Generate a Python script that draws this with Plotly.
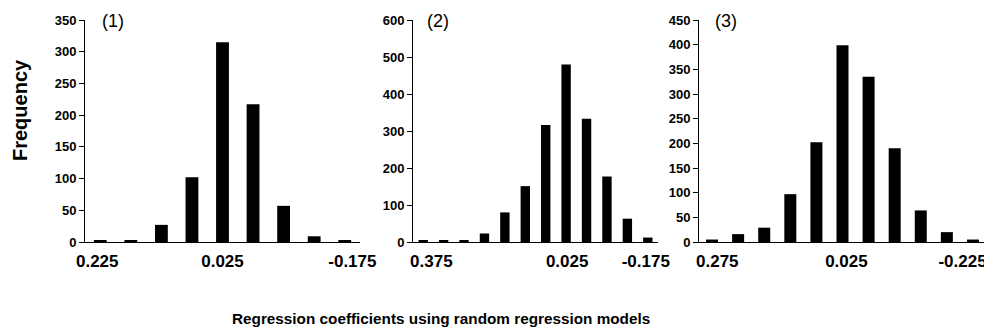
import plotly.graph_objects as go

# the page body has an 8px default margin, so the figure is 8px smaller than the window
OFF = 8
W, H = 992 - OFF, 332 - OFF

cats1 = ["0.225", "0.175", "0.125", "0.075", "0.025", "-0.025", "-0.075", "-0.125", "-0.175"]
freq1 = [3, 3, 27, 102, 315, 217, 57, 9, 2]
ticks1 = ["0.225", "0.025", "-0.175"]

cats2 = ["0.375", "0.325", "0.275", "0.225", "0.175", "0.125", "0.075", "0.025",
         "-0.025", "-0.075", "-0.125", "-0.175"]
freq2 = [3, 5, 3, 23, 80, 151, 316, 480, 333, 177, 63, 12]
ticks2 = ["0.375", "0.025", "-0.175"]

cats3 = ["0.275", "0.225", "0.175", "0.125", "0.075", "0.025", "-0.025", "-0.075",
         "-0.125", "-0.175", "-0.225"]
freq3 = [5, 16, 29, 97, 202, 399, 335, 190, 64, 20, 5]
ticks3 = ["0.275", "0.025", "-0.225"]

panel_labels = ["(1)", "(2)", "(3)"]
y_max = [350, 600, 450]
y_dtick = [50, 100, 50]

FONT = "Liberation Sans, Arial, sans-serif"


def px(x):
    return (x - OFF) / W


def py(y):
    return (H - (y - OFF)) / H


# label positions along each category axis (category index units), as placed in the source
panels = [
    dict(cats=cats1, freq=freq1, ticks=ticks1, tickpos=[-0.1, 4.0, 8.25],
         x0=85, x1=360, width=0.42, lab_x=113),
    dict(cats=cats2, freq=freq2, ticks=ticks2, tickpos=[0.4, 7.05, 10.9],
         x0=413, x1=658, width=0.46, lab_x=438),
    dict(cats=cats3, freq=freq3, ticks=ticks3, tickpos=[0.2, 5.15, 9.6],
         x0=699, x1=986, width=0.46, lab_x=726),
]

y_top_px, y_bot_px = 20, 242
ydom = [py(y_bot_px), py(y_top_px)]

fig = go.Figure()
layout = dict(
    width=W, height=H,
    margin=dict(l=0, r=0, t=0, b=0),
    paper_bgcolor="white", plot_bgcolor="white",
    showlegend=False,
    font=dict(family=FONT, color="black"),
)
annotations = []
for i, p in enumerate(panels):
    n = i + 1
    xa = "x" if n == 1 else f"x{n}"
    ya = "y" if n == 1 else f"y{n}"
    fig.add_trace(go.Bar(
        x=p["cats"], y=p["freq"], width=p["width"],
        marker=dict(color="black", line=dict(width=0)),
        xaxis=xa, yaxis=ya,
    ))
    xkey = "xaxis" if n == 1 else f"xaxis{n}"
    ykey = "yaxis" if n == 1 else f"yaxis{n}"
    layout[xkey] = dict(
        domain=[px(p["x0"]), px(p["x1"])],
        anchor=ya, type="category", automargin=False,
        categoryorder="array", categoryarray=p["cats"],
        range=[-0.5, len(p["cats"]) - 0.5],
        tickmode="array", tickvals=p["tickpos"], ticktext=p["ticks"],
        showline=True, linecolor="black", linewidth=1,
        ticks="", showgrid=False, zeroline=False,
        ticklabelstandoff=4,
        tickfont=dict(family=FONT, size=17, color="black", weight="bold"),
    )
    layout[ykey] = dict(
        domain=ydom, anchor=xa, automargin=False,
        range=[0, y_max[i]], dtick=y_dtick[i], tick0=0,
        showline=True, linecolor="black", linewidth=1,
        ticks="outside", ticklen=5, tickcolor="black", tickwidth=1,
        showgrid=False, zeroline=False,
        tickfont=dict(family=FONT, size=13, color="black", weight="bold"),
    )
    annotations.append(dict(
        text=panel_labels[i], xref="paper", yref="paper",
        x=px(p["lab_x"]), y=py(21), xanchor="center", yanchor="middle",
        showarrow=False, font=dict(family=FONT, size=18, color="black"),
    ))

annotations.append(dict(
    text="Frequency", xref="paper", yref="paper",
    x=px(20), y=py(110), xanchor="center", yanchor="middle",
    textangle=-90, showarrow=False,
    font=dict(family=FONT, size=20, color="black", weight="bold"),
))
annotations.append(dict(
    text="Regression coefficients using random regression models",
    xref="paper", yref="paper",
    x=px(441), y=py(318), xanchor="center", yanchor="middle",
    showarrow=False,
    font=dict(family=FONT, size=15.3, color="black", weight="bold"),
))
layout["annotations"] = annotations
fig.update_layout(**layout)
fig.write_html("out.html")
